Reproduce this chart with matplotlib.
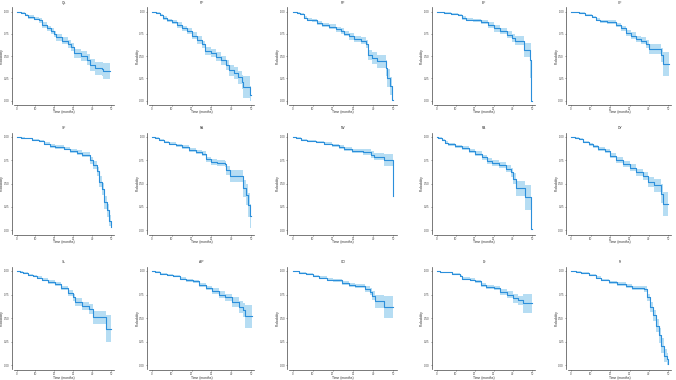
import matplotlib
matplotlib.use("Agg")
import matplotlib.pyplot as plt
import numpy as np

plt.rcParams['font.family'] = ['Liberation Sans', 'DejaVu Sans']

# Kaplan-Meier estimates: time (months), survival, CI half-width
titles = ["QL", "PF", "RF", "EF", "CF", "SF", "FA", "NV", "PA", "DY", "SL", "AP", "CO", "DI", "FI"]

ql_t = [0, 2.2, 4.5, 6.3, 9, 11.7, 13.5, 16.2, 18, 19.8, 20.7, 24.3, 27, 29.1, 30.2, 34.2, 37.4, 38.7, 41.4, 45, 45.9, 49.5]
ql_s = [1.0, 0.98, 0.96, 0.94, 0.92, 0.90, 0.85, 0.81, 0.78, 0.75, 0.71, 0.67, 0.64, 0.60, 0.53, 0.50, 0.46, 0.40, 0.36, 0.35, 0.33, 0.33]
ql_ci = [0, 0.01, 0.015, 0.02, 0.02, 0.025, 0.03, 0.03, 0.035, 0.035, 0.04, 0.04, 0.045, 0.045, 0.05, 0.055, 0.06, 0.065, 0.07, 0.08, 0.09, 0.09]

pf_t = [0, 2.2, 3.9, 5.7, 7.4, 9.9, 12.5, 15, 17.6, 20.2, 22.8, 25.3, 27, 29.6, 32.2, 34.8, 37.3, 39, 41.6, 43.3, 45.5, 46.2, 49.3, 50]
pf_s = [1.0, 0.98, 0.96, 0.93, 0.90, 0.88, 0.85, 0.81, 0.78, 0.73, 0.68, 0.63, 0.56, 0.53, 0.49, 0.45, 0.40, 0.34, 0.31, 0.26, 0.21, 0.15, 0.06, 0.06]
pf_ci = [0, 0.01, 0.015, 0.02, 0.02, 0.025, 0.03, 0.03, 0.035, 0.035, 0.04, 0.04, 0.045, 0.045, 0.05, 0.05, 0.055, 0.06, 0.065, 0.07, 0.08, 0.12, 0.1, 0.1]

rf_t = [0, 2.2, 3.8, 5.5, 7.1, 9.6, 12.1, 14.6, 17.9, 21.3, 23.8, 25.4, 27.9, 30.4, 33.7, 36.2, 37.5, 39.5, 41.7, 46.2, 47, 48.3, 49.5, 50]
rf_s = [1.0, 0.98, 0.97, 0.93, 0.91, 0.90, 0.87, 0.85, 0.83, 0.80, 0.78, 0.75, 0.72, 0.69, 0.67, 0.64, 0.51, 0.48, 0.44, 0.36, 0.25, 0.16, 0.01, 0.01]
rf_ci = [0, 0.01, 0.01, 0.015, 0.02, 0.02, 0.02, 0.025, 0.025, 0.03, 0.03, 0.03, 0.035, 0.035, 0.04, 0.045, 0.06, 0.065, 0.07, 0.09, 0.1, 0.1, 0.06, 0.06]

ef_t = [0, 2.1, 3.9, 7.4, 11, 13.3, 15.4, 19, 23.4, 27, 30, 33.2, 36.7, 39.4, 41.1, 45.9, 48.8, 49.6, 50]
ef_s = [1.0, 0.99, 0.98, 0.97, 0.96, 0.93, 0.91, 0.90, 0.88, 0.85, 0.81, 0.78, 0.74, 0.70, 0.67, 0.57, 0.45, 0.0, 0.0]
ef_ci = [0, 0.005, 0.01, 0.01, 0.015, 0.02, 0.02, 0.02, 0.025, 0.03, 0.035, 0.035, 0.04, 0.045, 0.05, 0.08, 0.2, 0.0, 0.0]

cf_t = [0, 1.4, 4, 7.4, 10.8, 13, 15.1, 18.6, 22.9, 25.4, 28, 30.6, 33.2, 35.7, 38.3, 40, 46, 47.4, 50.3]
cf_s = [1.0, 0.99, 0.98, 0.96, 0.94, 0.91, 0.89, 0.88, 0.85, 0.81, 0.76, 0.73, 0.69, 0.67, 0.63, 0.58, 0.51, 0.41, 0.41]
cf_ci = [0, 0.005, 0.01, 0.01, 0.015, 0.02, 0.02, 0.02, 0.025, 0.03, 0.03, 0.035, 0.035, 0.04, 0.045, 0.06, 0.08, 0.13, 0.13]

sf_t = [0, 2.5, 4.7, 8.2, 11.8, 14.4, 17.9, 20.5, 24.9, 28.4, 31.9, 34.6, 38.9, 40.7, 42.5, 43.9, 45.1, 46.3, 47.7, 49.1, 49.8, 50]
sf_s = [1.0, 0.99, 0.985, 0.97, 0.96, 0.93, 0.905, 0.89, 0.875, 0.85, 0.83, 0.81, 0.75, 0.70, 0.63, 0.52, 0.44, 0.30, 0.21, 0.10, 0.03, 0.03]
sf_ci = [0, 0.005, 0.008, 0.01, 0.012, 0.015, 0.018, 0.02, 0.02, 0.025, 0.025, 0.03, 0.04, 0.045, 0.05, 0.06, 0.065, 0.07, 0.07, 0.06, 0.04, 0.04]

fa_t = [0, 1.7, 3.4, 5.9, 8.5, 11.9, 15.3, 18.6, 22, 25.4, 27.1, 29.7, 33, 36.9, 37.6, 39.3, 45.8, 47.5, 48.6, 49.7, 50]
fa_s = [1.0, 0.99, 0.97, 0.95, 0.93, 0.91, 0.89, 0.86, 0.84, 0.82, 0.76, 0.73, 0.72, 0.71, 0.64, 0.58, 0.45, 0.38, 0.27, 0.15, 0.15]
fa_ci = [0, 0.005, 0.01, 0.012, 0.015, 0.018, 0.02, 0.02, 0.025, 0.025, 0.03, 0.03, 0.035, 0.035, 0.05, 0.06, 0.09, 0.11, 0.13, 0.13, 0.13]

nv_t = [0, 1.7, 4.1, 7.4, 11.6, 15.7, 19.8, 23.1, 25.6, 29.7, 34.7, 38.8, 40.4, 45.4, 49.8, 50]
nv_s = [1.0, 0.99, 0.97, 0.96, 0.95, 0.93, 0.91, 0.89, 0.87, 0.85, 0.84, 0.81, 0.79, 0.75, 0.37, 0.37]
nv_ci = [0, 0.005, 0.008, 0.01, 0.012, 0.015, 0.018, 0.02, 0.025, 0.025, 0.03, 0.035, 0.04, 0.065, 0.3, 0.3]

pa_t = [0, 0.9, 2.7, 4.4, 6.2, 9.7, 13.3, 16.8, 20.3, 23.9, 26.5, 29.2, 32.7, 36.2, 38.9, 40.1, 41.5, 46.5, 49.6, 50]
pa_s = [1.0, 0.99, 0.97, 0.94, 0.92, 0.90, 0.88, 0.85, 0.82, 0.78, 0.74, 0.72, 0.70, 0.66, 0.62, 0.55, 0.45, 0.35, 0.01, 0.01]
pa_ci = [0, 0.005, 0.008, 0.012, 0.015, 0.015, 0.018, 0.02, 0.025, 0.03, 0.03, 0.035, 0.035, 0.04, 0.045, 0.06, 0.08, 0.13, 0.0, 0.0]

dy_t = [0, 2.2, 3.9, 6.4, 9, 11.5, 14, 17.4, 19.9, 23.3, 26.7, 30.1, 33.4, 36.8, 39.4, 42.7, 46.1, 47.3, 49.5]
dy_s = [1.0, 0.99, 0.98, 0.95, 0.92, 0.90, 0.87, 0.85, 0.80, 0.75, 0.71, 0.67, 0.62, 0.58, 0.52, 0.48, 0.39, 0.28, 0.28]
dy_ci = [0, 0.005, 0.008, 0.012, 0.015, 0.018, 0.02, 0.02, 0.025, 0.03, 0.03, 0.035, 0.04, 0.045, 0.055, 0.07, 0.1, 0.13, 0.13]

sl_t = [0, 1.7, 3.4, 5.9, 8.5, 11, 13.6, 16.9, 20.3, 23.7, 27.1, 29.7, 30.8, 34.7, 38.1, 40.7, 47.1, 50]
sl_s = [1.0, 0.99, 0.98, 0.96, 0.95, 0.93, 0.91, 0.88, 0.86, 0.82, 0.77, 0.72, 0.67, 0.63, 0.60, 0.51, 0.39, 0.39]
sl_ci = [0, 0.005, 0.008, 0.01, 0.012, 0.015, 0.018, 0.02, 0.02, 0.025, 0.03, 0.035, 0.04, 0.045, 0.05, 0.07, 0.14, 0.14]

ap_t = [0, 1.7, 3.8, 7.4, 10.7, 14, 17.3, 20.6, 23.9, 27.2, 30.5, 33.8, 37.1, 40.4, 43.7, 46.2, 47, 50.3]
ap_s = [1.0, 0.99, 0.97, 0.96, 0.945, 0.92, 0.90, 0.89, 0.855, 0.82, 0.79, 0.75, 0.72, 0.67, 0.62, 0.59, 0.52, 0.52]
ap_ci = [0, 0.005, 0.008, 0.01, 0.012, 0.015, 0.018, 0.02, 0.022, 0.025, 0.03, 0.035, 0.04, 0.05, 0.065, 0.075, 0.12, 0.12]

co_t = [0, 3, 6.7, 10, 13.3, 17, 20, 24.5, 27.8, 31, 36, 38.5, 39.5, 41, 45.5, 50]
co_s = [1.0, 0.98, 0.97, 0.95, 0.93, 0.91, 0.90, 0.87, 0.85, 0.84, 0.81, 0.78, 0.74, 0.68, 0.62, 0.62]
co_ci = [0, 0.005, 0.008, 0.01, 0.012, 0.015, 0.018, 0.02, 0.022, 0.025, 0.03, 0.035, 0.045, 0.07, 0.12, 0.12]

di_t = [0, 2, 4.6, 8, 12.2, 13.4, 17.3, 20.2, 23.2, 25.8, 30, 33.4, 36.8, 40.2, 42.7, 45.3, 50]
di_s = [1.0, 0.99, 0.985, 0.97, 0.95, 0.92, 0.91, 0.89, 0.85, 0.83, 0.82, 0.78, 0.75, 0.71, 0.69, 0.66, 0.66]
di_ci = [0, 0.004, 0.006, 0.008, 0.01, 0.012, 0.015, 0.018, 0.02, 0.022, 0.025, 0.03, 0.035, 0.045, 0.05, 0.1, 0.1]

fi_t = [0, 2.4, 5, 9.2, 12.7, 15.2, 19.5, 23.8, 28.1, 31.5, 37.5, 38.9, 40.6, 42.1, 43.5, 44.9, 46.2, 47.6, 49, 49.8, 50]
fi_s = [1.0, 0.99, 0.98, 0.96, 0.93, 0.905, 0.88, 0.86, 0.84, 0.82, 0.81, 0.72, 0.62, 0.53, 0.42, 0.32, 0.21, 0.105, 0.07, 0.02, 0.02]
fi_ci = [0, 0.005, 0.008, 0.01, 0.012, 0.015, 0.018, 0.02, 0.022, 0.025, 0.03, 0.04, 0.05, 0.06, 0.07, 0.08, 0.08, 0.07, 0.06, 0.03, 0.03]

series = [(ql_t, ql_s, ql_ci), (pf_t, pf_s, pf_ci), (rf_t, rf_s, rf_ci), (ef_t, ef_s, ef_ci),
          (cf_t, cf_s, cf_ci), (sf_t, sf_s, sf_ci), (fa_t, fa_s, fa_ci), (nv_t, nv_s, nv_ci),
          (pa_t, pa_s, pa_ci), (dy_t, dy_s, dy_ci), (sl_t, sl_s, sl_ci), (ap_t, ap_s, ap_ci),
          (co_t, co_s, co_ci), (di_t, di_s, di_ci), (fi_t, fi_s, fi_ci)]

W, H = 676, 380
fig = plt.figure(figsize=(W / 100, H / 100), dpi=100)

# pixel positions of x=0 / x=50 per column and y=1 / y=0 per row
col_px = [(16.5, 111), (152, 251), (292.5, 393.5), (436.5, 532), (571, 668.5)]
row_px = [(11.5, 100.5), (137, 230), (271, 365.5)]
xlo, xhi = -1.5, 51.5
ylo, yhi = -0.04, 1.045

line_c = "#2b8fdb"
fill_c = "#2E9FDF"
spine_c = "#444444"

for i, (title, (t, s, ci)) in enumerate(zip(titles, series)):
    r, c = divmod(i, 5)
    x0, x50 = col_px[c]
    y1, y0 = row_px[r]
    sx = (x50 - x0) / 50
    sy = (y0 - y1)
    left = x0 + xlo * sx
    right = x0 + xhi * sx
    top = y0 - yhi * sy
    bottom = y0 - ylo * sy
    aw, ah = right - left, bottom - top
    ax = fig.add_axes([left / W, 1 - bottom / H, aw / W, ah / H])

    t = np.array(t)
    s = np.array(s)
    ci = np.array(ci)
    lo = np.clip(s - ci, 0, 1)
    hi = np.clip(s + ci, 0, 1)
    ax.fill_between(t, lo, hi, step="post", color=fill_c, alpha=0.35, lw=0)
    ax.step(t, s, where="post", color=line_c, lw=0.8)

    ax.set_xlim(xlo, xhi)
    ax.set_ylim(ylo, yhi)
    ax.set_xticks([0, 10, 20, 30, 40, 50])
    ax.set_yticks([0, 0.25, 0.5, 0.75, 1.0])
    ax.set_yticklabels(["0.00", "0.25", "0.50", "0.75", "1.00"])
    for side in ["top", "right"]:
        ax.spines[side].set_visible(False)
    ax.spines["left"].set_position(("outward", 1.5))
    ax.spines["bottom"].set_position(("outward", 0.7))
    for side in ["left", "bottom"]:
        ax.spines[side].set_linewidth(0.5)
        ax.spines[side].set_color(spine_c)
    ax.tick_params(labelsize=2.0, length=1.0, width=0.4, pad=0.5, colors=spine_c)
    ax.set_title(title, fontsize=2.4, pad=2.5, color="#333333")
    ax.set_xlabel("Time (months)", fontsize=2.4, color="#333333")
    ax.set_ylabel("Probability", fontsize=2.4, color="#333333")
    ax.xaxis.set_label_coords(0.5, -6.3 / ah)
    ax.yaxis.set_label_coords(-9.5 / aw, 0.5)

fig.savefig("out.png", dpi=100)
